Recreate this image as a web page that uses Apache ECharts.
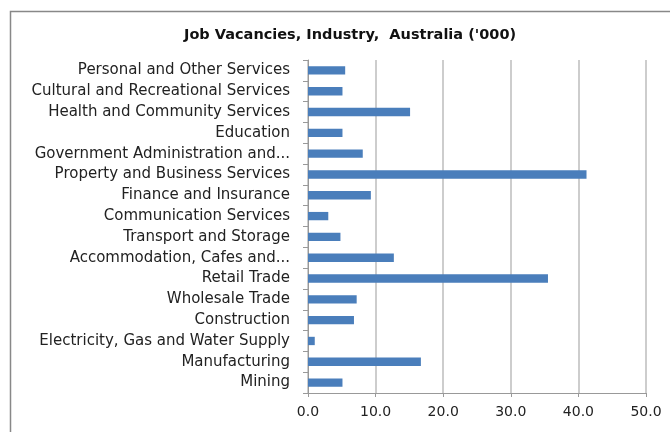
<!DOCTYPE html>
<html>
<head>
<meta charset="utf-8">
<script src="https://cdn.jsdelivr.net/npm/echarts@6/dist/echarts.min.js"></script>
<style>
  html, body { margin: 0; padding: 0; background: #fff; }
  #chart { width: 670px; height: 432px; }
</style>
</head>
<body>
<div id="chart"></div>
<script>
// industries, top to bottom as in the picture
const industries = [
  'Personal and Other Services',
  'Cultural and Recreational Services',
  'Health and Community Services',
  'Education',
  'Government Administration and...',
  'Property and Business Services',
  'Finance and Insurance',
  'Communication Services',
  'Transport and Storage',
  'Accommodation, Cafes and...',
  'Retail Trade',
  'Wholesale Trade',
  'Construction',
  'Electricity, Gas and Water Supply',
  'Manufacturing',
  'Mining'
];
const vacancies = [5.5, 5.1, 15.1, 5.1, 8.1, 41.2, 9.3, 3.0, 4.8, 12.7, 35.5, 7.2, 6.8, 1.0, 16.7, 5.1];
const xTicks = [0, 10, 20, 30, 40, 50];

const chart = echarts.init(document.getElementById('chart'));
chart.setOption({
  animation: false,
  backgroundColor: '#fff',
  title: {
    text: "Job Vacancies, Industry,  Australia ('000)",
    left: 179,
    top: 23,
    textStyle: { fontFamily: 'DejaVu Sans', fontSize: 14.5, fontWeight: 'bold', color: '#111' }
  },
  graphic: [{
    type: 'rect',
    shape: { x: 10.5, y: 11.5, width: 700, height: 500 },
    style: { fill: 'none', stroke: '#888', lineWidth: 1.5 },
    silent: true
  }],
  grid: { left: 308, right: 24, top: 60, bottom: 39 },
  xAxis: {
    type: 'value',
    min: xTicks[0],
    max: xTicks[xTicks.length - 1],
    interval: 10,
    axisLine: { show: true, lineStyle: { color: '#999', width: 1 } },
    axisTick: { show: true, length: 4, lineStyle: { color: '#999' } },
    splitLine: { show: true, lineStyle: { color: '#bdbdbd', width: 1.5 } },
    axisLabel: {
      margin: 12,
      fontFamily: 'DejaVu Sans',
      fontSize: 14,
      color: '#222',
      formatter: v => v.toFixed(1)
    }
  },
  yAxis: {
    type: 'category',
    data: industries,
    inverse: true,
    axisLine: { show: true, lineStyle: { color: '#999', width: 1 } },
    axisTick: { show: true, inside: false, length: 5, lineStyle: { color: '#999' } },
    axisLabel: {
      margin: 18,
      fontFamily: 'DejaVu Sans',
      fontSize: 15,
      color: '#222'
    }
  },
  series: [{
    type: 'bar',
    data: vacancies,
    barCategoryGap: '60%',
    itemStyle: { color: '#4a7ebb' }
  }]
});
</script>
</body>
</html>
